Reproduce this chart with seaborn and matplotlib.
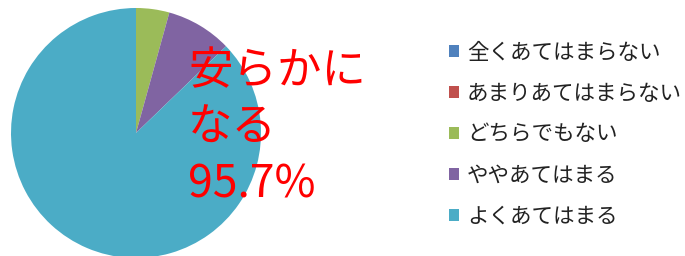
import matplotlib
matplotlib.use("Agg")
import matplotlib.pyplot as plt
import seaborn as sns

# data (counts, percentages)
categories = ["全くあてはまらない", "あまりあてはまらない", "どちらでもない", "ややあてはまる", "よくあてはまる"]
values = [0, 0, 4.3, 8.5, 87.2]
colors = ["#4F81BD", "#C0504D", "#9BBB59", "#8064A2", "#4BACC6"]
note_lines = ["安らかに", "なる", "95.7%"]

sns.set_style("white")
plt.rcParams['font.family'] = ['Noto Sans CJK JP', 'DejaVu Sans']

fig = plt.figure(figsize=(6.85, 2.56), dpi=100)
ax = fig.add_axes([11/685, -2/256, 250/685, 250/256])
wedges, _ = ax.pie(values, colors=colors, startangle=90, counterclock=False,
                   wedgeprops=dict(linewidth=0))
ax.set_xlim(-1, 1)
ax.set_ylim(-1, 1)
ax.set_aspect("equal")
ax.axis("off")

for i, line in enumerate(note_lines):
    fig.text(188/685, 1 - (71 + i * 57) / 256, line, color="red", fontsize=32,
             va="center", ha="left")

fig.legend(wedges, categories, loc="upper left", bbox_to_anchor=(440/685, 1 - 33/256),
           frameon=False, fontsize=15.5, handlelength=0.5, handleheight=0.5,
           handletextpad=0.35, labelspacing=0.88, borderaxespad=0, labelcolor="#222222")

fig.savefig("out.png", dpi=100)
